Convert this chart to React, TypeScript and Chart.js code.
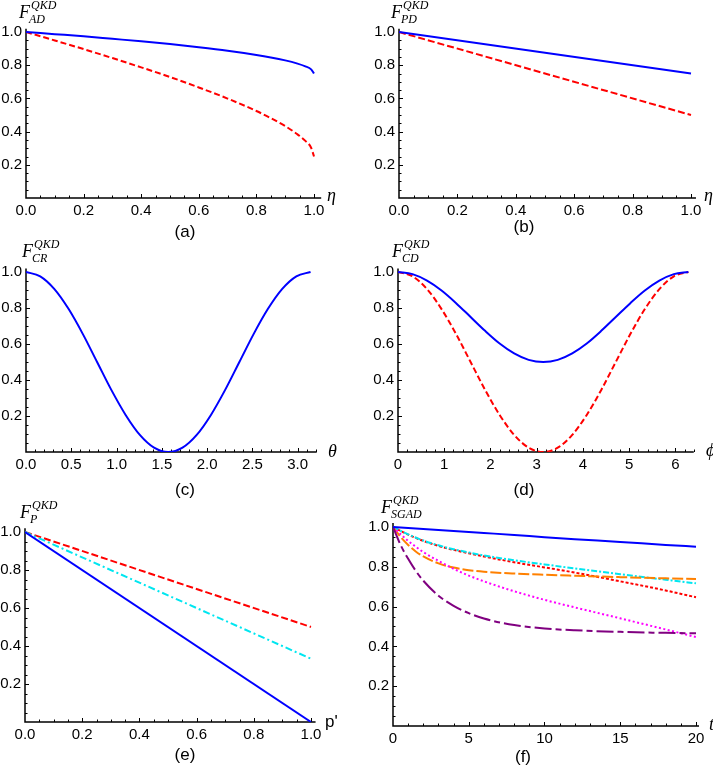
import React, { useEffect, useRef } from "react";
import { Chart, registerables } from "chart.js";

Chart.register(...registerables);

// ---------- data ----------
// (a) amplitude damping
const etaA = [0, 0.1, 0.2, 0.3, 0.4, 0.5, 0.6, 0.7, 0.8, 0.85, 0.9, 0.94, 0.97, 0.99, 1.0];
const fadBlue = [1, 0.987, 0.974, 0.959, 0.944, 0.927, 0.908, 0.887, 0.862, 0.847, 0.829, 0.811, 0.793, 0.775, 0.75];
const fadRed = [1, 0.949, 0.897, 0.843, 0.787, 0.729, 0.666, 0.599, 0.524, 0.481, 0.433, 0.387, 0.344, 0.303, 0.25];

// (b) phase damping
const etaB = [0, 1];
const fpdBlue = [1, 0.75];
const fpdRed = [1, 0.5];

// (c) theta
const thetaC = [0, 0.157, 0.314, 0.471, 0.628, 0.785, 0.942, 1.1, 1.257, 1.414, 1.571, 1.728, 1.885, 2.042, 2.199, 2.356, 2.513, 2.67, 2.827, 2.985, 3.142];
const fcrBlue = [1, 0.976, 0.905, 0.794, 0.655, 0.5, 0.345, 0.206, 0.095, 0.024, 0, 0.024, 0.095, 0.206, 0.345, 0.5, 0.655, 0.794, 0.905, 0.976, 1];

// (d) phi
const phiD = [0, 0.314, 0.628, 0.942, 1.257, 1.571, 1.885, 2.199, 2.513, 2.827, 3.142, 3.456, 3.77, 4.084, 4.398, 4.712, 5.027, 5.341, 5.655, 5.969, 6.283];
const fcdBlue = [1, 0.988, 0.952, 0.897, 0.827, 0.75, 0.673, 0.603, 0.548, 0.512, 0.5, 0.512, 0.548, 0.603, 0.673, 0.75, 0.827, 0.897, 0.952, 0.988, 1];
const fcdRed = [1, 0.976, 0.905, 0.794, 0.655, 0.5, 0.345, 0.206, 0.095, 0.024, 0, 0.024, 0.095, 0.206, 0.345, 0.5, 0.655, 0.794, 0.905, 0.976, 1];

// (e) p'
const pE = [0, 1];
const fpBlue = [1, 0];
const fpRed = [1, 0.5];
const fpCyan = [1, 0.333];

// (f) t
const tF = [0, 0.5, 1, 1.5, 2, 3, 4, 5, 6, 8, 10, 12, 15, 18, 20];
const fsgBlue = [1, 0.9975, 0.995, 0.9925, 0.99, 0.985, 0.98, 0.975, 0.97, 0.96, 0.949, 0.939, 0.925, 0.91, 0.901];
const fsgRed = [1, 0.98, 0.962, 0.945, 0.93, 0.905, 0.885, 0.868, 0.852, 0.823, 0.797, 0.771, 0.727, 0.681, 0.647];
const fsgCyan = [1, 0.981, 0.963, 0.947, 0.932, 0.908, 0.888, 0.872, 0.857, 0.833, 0.812, 0.792, 0.763, 0.735, 0.717];
const fsgOrange = [1, 0.95, 0.91, 0.877, 0.852, 0.817, 0.796, 0.783, 0.775, 0.766, 0.76, 0.755, 0.748, 0.742, 0.739];
const fsgMagenta = [1, 0.964, 0.93, 0.901, 0.874, 0.83, 0.79, 0.756, 0.727, 0.677, 0.634, 0.596, 0.541, 0.485, 0.447];
const fsgPurple = [1, 0.91, 0.84, 0.78, 0.73, 0.655, 0.604, 0.567, 0.54, 0.507, 0.49, 0.481, 0.473, 0.468, 0.466];

// tick labels
const yTicks = [0.2, 0.4, 0.6, 0.8, 1.0];
const xTicksUnit = [0, 0.2, 0.4, 0.6, 0.8, 1.0];
const xTicksTheta = [0, 0.5, 1.0, 1.5, 2.0, 2.5, 3.0];
const xTicksPhi = [0, 1, 2, 3, 4, 5, 6];
const xTicksT = [0, 5, 10, 15, 20];

// ---------- styles ----------
const BLUE = "rgb(0,0,255)";
const RED = "rgb(255,0,0)";
const CYAN = "rgb(0,230,240)";
const ORANGE = "rgb(255,128,0)";
const MAGENTA = "rgb(255,0,255)";
const PURPLE = "rgb(128,0,128)";

const SERIF = '"Liberation Serif", "Times New Roman", serif';
const SANS = '"Liberation Sans", Arial, sans-serif';
const Y_MAX = 1.02;
const X_AXIS_H = 24;

type S = { xs: number[]; ys: number[]; color: string; dash: number[]; smooth: boolean };
type P = {
  left: number; top: number; width: number; height: number;
  x0: number; xRef: number; xRefPx: number; xMax: number;
  y0: number; y1: number;
  xTicks: number[]; xMinor: number; xDigits: number;
  series: S[];
};

const panels: P[] = [
  {
    left: 0, top: 0, width: 356, height: 222, x0: 26, xRef: 1, xRefPx: 314, xMax: 1.025, y0: 198, y1: 32,
    xTicks: xTicksUnit, xMinor: 0.05, xDigits: 1,
    series: [
      { xs: etaA, ys: fadBlue, color: BLUE, dash: [], smooth: true },
      { xs: etaA, ys: fadRed, color: RED, dash: [6, 3], smooth: true },
    ],
  },
  {
    left: 356, top: 0, width: 357, height: 222, x0: 399, xRef: 1, xRefPx: 691, xMax: 1.017, y0: 198, y1: 32,
    xTicks: xTicksUnit, xMinor: 0.05, xDigits: 1,
    series: [
      { xs: etaB, ys: fpdBlue, color: BLUE, dash: [], smooth: false },
      { xs: etaB, ys: fpdRed, color: RED, dash: [7, 3], smooth: false },
    ],
  },
  {
    left: 0, top: 255, width: 356, height: 221, x0: 26, xRef: 3, xRefPx: 297.7, xMax: 3.21, y0: 452, y1: 272,
    xTicks: xTicksTheta, xMinor: 0.1, xDigits: 1,
    series: [{ xs: thetaC, ys: fcrBlue, color: BLUE, dash: [], smooth: true }],
  },
  {
    left: 356, top: 255, width: 357, height: 221, x0: 398, xRef: 6, xRefPx: 675.3, xMax: 6.4, y0: 452, y1: 272,
    xTicks: xTicksPhi, xMinor: 0.2, xDigits: 0,
    series: [
      { xs: phiD, ys: fcdBlue, color: BLUE, dash: [], smooth: true },
      { xs: phiD, ys: fcdRed, color: RED, dash: [6, 3], smooth: true },
    ],
  },
  {
    left: 0, top: 510, width: 356, height: 236, x0: 25, xRef: 1, xRefPx: 311, xMax: 1.016, y0: 722, y1: 532,
    xTicks: xTicksUnit, xMinor: 0.05, xDigits: 1,
    series: [
      { xs: pE, ys: fpBlue, color: BLUE, dash: [], smooth: false },
      { xs: pE, ys: fpCyan, color: CYAN, dash: [7, 3, 2, 3], smooth: false },
      { xs: pE, ys: fpRed, color: RED, dash: [7, 3], smooth: false },
    ],
  },
  {
    left: 356, top: 510, width: 357, height: 240, x0: 393, xRef: 20, xRefPx: 696, xMax: 20.2, y0: 726, y1: 527,
    xTicks: xTicksT, xMinor: 1, xDigits: 0,
    series: [
      { xs: tF, ys: fsgBlue, color: BLUE, dash: [], smooth: true },
      { xs: tF, ys: fsgPurple, color: PURPLE, dash: [17, 4, 6, 4], smooth: true },
      { xs: tF, ys: fsgMagenta, color: MAGENTA, dash: [2, 2.5], smooth: true },
      { xs: tF, ys: fsgOrange, color: ORANGE, dash: [11, 3], smooth: true },
      { xs: tF, ys: fsgCyan, color: CYAN, dash: [6, 2, 2, 2], smooth: true },
      { xs: tF, ys: fsgRed, color: RED, dash: [3, 2], smooth: true },
    ],
  },
];

function minorList(step: number, max: number, majors: number[]) {
  const out: number[] = [];
  for (let i = 1; i * step <= max + 1e-9; i++) {
    const v = i * step;
    if (!majors.some((m) => Math.abs(m - v) < step / 10)) out.push(v);
  }
  return out;
}

function Panel({ p }: { p: P }) {
  const ref = useRef<HTMLCanvasElement>(null);
  useEffect(() => {
    const canvas = ref.current;
    if (!canvas) return;
    const xEnd = p.x0 + ((p.xRefPx - p.x0) / p.xRef) * p.xMax;
    const yTop = p.y0 - (p.y0 - p.y1) * Y_MAX;
    const xMinorVals = minorList(p.xMinor, p.xMax, p.xTicks);
    const yMinorVals = minorList(0.05, 1.0, yTicks);

    const axesPlugin = {
      id: "mmaAxes",
      beforeDatasetsDraw(chart: any) {
        const { ctx, chartArea } = chart;
        const xs = chart.scales.x;
        const ys = chart.scales.y;
        const ox = xs.getPixelForValue(0);
        const oy = ys.getPixelForValue(0);
        ctx.save();
        ctx.strokeStyle = "#000";
        ctx.lineWidth = 1.5;
        ctx.beginPath();
        ctx.moveTo(ox - 0.75, oy);
        ctx.lineTo(chartArea.right, oy);
        ctx.moveTo(ox, oy + 0.75);
        ctx.lineTo(ox, chartArea.top);
        ctx.stroke();
        ctx.lineWidth = 1;
        ctx.beginPath();
        p.xTicks.forEach((v) => {
          if (v === 0) return;
          const px = Math.round(xs.getPixelForValue(v)) + 0.5;
          ctx.moveTo(px, oy);
          ctx.lineTo(px, oy - 4);
        });
        xMinorVals.forEach((v) => {
          const px = Math.round(xs.getPixelForValue(v)) + 0.5;
          ctx.moveTo(px, oy);
          ctx.lineTo(px, oy - 2.5);
        });
        yTicks.forEach((v) => {
          const py = Math.round(ys.getPixelForValue(v)) + 0.5;
          ctx.moveTo(ox, py);
          ctx.lineTo(ox + 4, py);
        });
        yMinorVals.forEach((v) => {
          const py = Math.round(ys.getPixelForValue(v)) + 0.5;
          ctx.moveTo(ox, py);
          ctx.lineTo(ox + 2.5, py);
        });
        ctx.stroke();
        ctx.restore();
      },
    };

    const chart = new Chart(canvas, {
      type: "line",
      data: {
        datasets: p.series.map((s) => ({
          data: s.xs.map((x, i) => ({ x, y: s.ys[i] })),
          borderColor: s.color,
          backgroundColor: s.color,
          borderWidth: 2,
          borderDash: s.dash,
          pointRadius: 0,
          fill: false,
          tension: 0,
          cubicInterpolationMode: s.smooth ? "monotone" : "default",
        })),
      } as any,
      options: {
        responsive: false,
        animation: false,
        events: [],
        layout: { padding: { left: 0, top: yTop - p.top, right: p.left + p.width - xEnd, bottom: 0 } },
        plugins: { legend: { display: false }, tooltip: { enabled: false } },
        scales: {
          x: {
            type: "linear",
            min: 0,
            max: p.xMax,
            grid: { display: false, drawTicks: false, tickLength: 0 },
            border: { display: false },
            ticks: {
              color: "#000",
              font: { family: SANS, size: 15 },
              padding: 4,
              maxRotation: 0,
              autoSkip: false,
              callback: (v: any) => Number(v).toFixed(p.xDigits),
            },
            afterBuildTicks: (s: any) => {
              s.ticks = p.xTicks.map((v) => ({ value: v }));
            },
            afterFit: (s: any) => {
              s.height = X_AXIS_H;
            },
          },
          y: {
            type: "linear",
            min: 0,
            max: Y_MAX,
            grid: { display: false, drawTicks: false, tickLength: 0 },
            border: { display: false },
            ticks: {
              color: "#000",
              font: { family: SANS, size: 15 },
              padding: 4,
              autoSkip: false,
              callback: (v: any) => Number(v).toFixed(1),
            },
            afterBuildTicks: (s: any) => {
              s.ticks = yTicks.map((v) => ({ value: v }));
            },
            afterFit: (s: any) => {
              s.width = p.x0 - p.left;
            },
          },
        },
      } as any,
      plugins: [axesPlugin],
    });
    return () => chart.destroy();
  }, [p]);
  return (
    <canvas
      ref={ref}
      width={p.width}
      height={p.height}
      style={{ position: "absolute", left: p.left, top: p.top, width: p.width, height: p.height }}
    />
  );
}

function Txt(props: { x: number; b: number; size: number; font: string; italic?: boolean; center?: boolean; children: React.ReactNode }) {
  const k = props.font === SERIF ? 0.8375 : 0.8465;
  return (
    <span
      style={{
        position: "absolute",
        left: props.x,
        top: props.b - k * props.size,
        fontSize: props.size,
        lineHeight: `${props.size}px`,
        fontFamily: props.font,
        fontStyle: props.italic ? "italic" : "normal",
        whiteSpace: "nowrap",
        color: "#000",
        transform: props.center ? "translateX(-50%)" : undefined,
      }}
    >
      {props.children}
    </span>
  );
}

function Title({ x, b, sub }: { x: number; b: number; sub: string }) {
  return (
    <>
      <Txt x={x} b={b} size={18} font={SERIF} italic>F</Txt>
      <Txt x={x + 12} b={b - 9} size={12} font={SERIF} italic>QKD</Txt>
      <Txt x={x + 10} b={b + 5} size={12} font={SERIF} italic>{sub}</Txt>
    </>
  );
}

export default function App() {
  return (
    <div style={{ position: "absolute", left: 0, top: 0, width: 713, height: 775, overflow: "hidden", background: "#fff" }}>
      {panels.map((p, i) => (
        <Panel key={i} p={p} />
      ))}
      <Title x={19} b={18} sub="AD" />
      <Title x={391} b={18} sub="PD" />
      <Title x={22} b={257} sub="CR" />
      <Title x={392} b={257} sub="CD" />
      <Title x={20} b={518} sub="P" />
      <Title x={381} b={513} sub="SGAD" />

      <Txt x={327} b={201} size={18} font={SERIF} italic>η</Txt>
      <Txt x={704} b={201} size={18} font={SERIF} italic>η</Txt>
      <Txt x={328} b={457} size={18} font={SERIF} italic>θ</Txt>
      <Txt x={706} b={456} size={18} font={SERIF} italic>ϕ</Txt>
      <Txt x={325} b={727} size={17} font={SANS}>p'</Txt>
      <Txt x={709} b={730} size={18} font={SERIF} italic>t</Txt>

      <Txt x={185} b={237} size={17} font={SANS} center>(a)</Txt>
      <Txt x={524} b={232} size={17} font={SANS} center>(b)</Txt>
      <Txt x={185} b={495} size={17} font={SANS} center>(c)</Txt>
      <Txt x={524} b={495} size={17} font={SANS} center>(d)</Txt>
      <Txt x={185} b={760} size={17} font={SANS} center>(e)</Txt>
      <Txt x={523} b={762} size={17} font={SANS} center>(f)</Txt>
    </div>
  );
}
